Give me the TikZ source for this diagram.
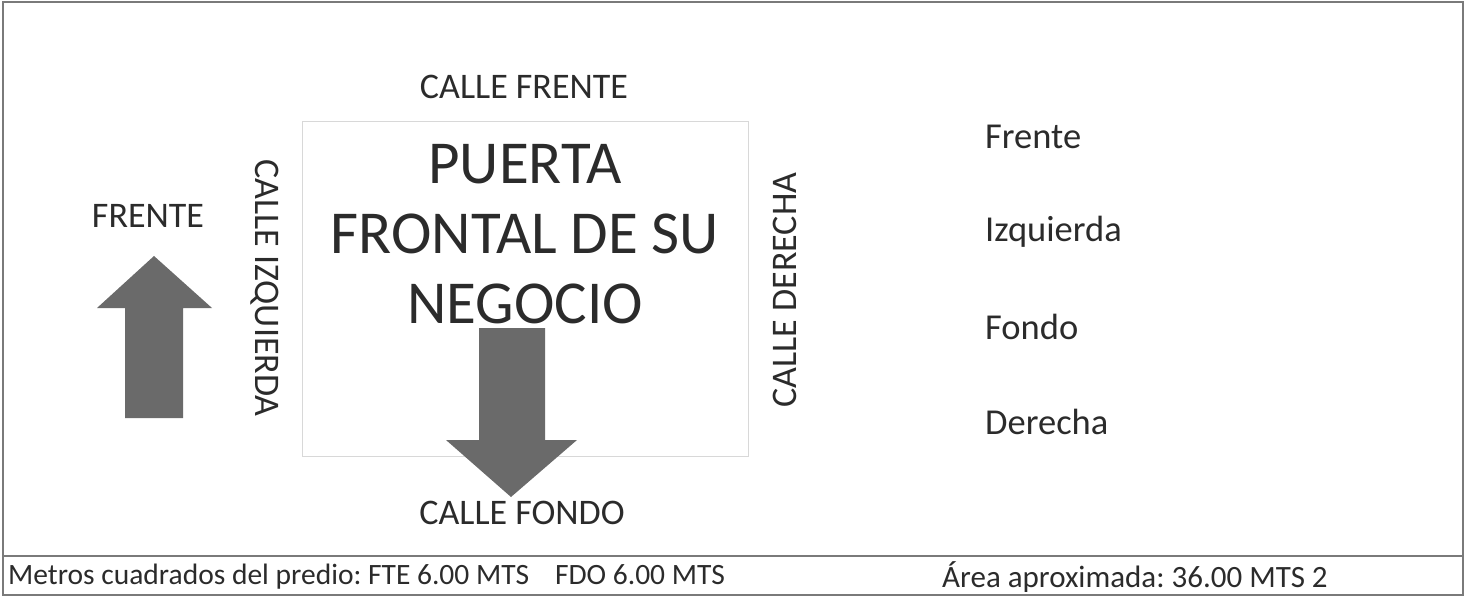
\documentclass[tikz,border=0pt]{standalone}
\usepackage{fontspec}
\setmainfont{Carlito}
\frenchspacing
\usetikzlibrary{positioning, calc}
\definecolor{Dark}{HTML}{2B2B2B}
\definecolor{Frame}{HTML}{7A7A7A}
\definecolor{Lot}{HTML}{D8D8D8}
\definecolor{Arrow}{HTML}{6A6A6A}
\tikzset{
    street/.style={inner sep=0pt, text=Dark, font=\fontsize{36}{43}\selectfont},
    sidelabel/.style={inner sep=0pt, anchor=west, text=Dark, font=\fontsize{36.5}{43}\selectfont},
    doorlabel/.style={inner sep=0pt, align=center, text=Dark, font=\fontsize{61}{70}\selectfont},
    footlabel/.style={inner sep=0pt, anchor=west, text=Dark, font=\fontsize{31}{37}\selectfont},
    bigarrow/.style={fill=Arrow},
}
\begin{document}
\begin{tikzpicture}[x=1pt, y=-1pt]
    \useasboundingbox (0,0) rectangle (1470,596);

    % Marco exterior y franja inferior
    \draw[Frame, line width=2.2pt] (3,2) rectangle (1463,595);
    \draw[Frame, line width=2.2pt] (3,556) -- (1463,556);

    % Predio
    \draw[Lot, line width=1pt] (302,122) rectangle (748,456);
    \node[doorlabel] (door) at (525,234) {PUERTA\\FRONTAL DE SU\\NEGOCIO};

    % Calles alrededor del predio
    \node[street] (front) at (524,87) {CALLE FRENTE};
    \node[street] (back) at (522,513) {CALLE FONDO};
    \node[street, rotate=-90] (left) at (265,288) {CALLE IZQUIERDA};
    \node[street, rotate=90] (right) at (785,290) {CALLE DERECHA};

    % Flecha de orientacion
    \node[street] (north) at (148,216) {FRENTE};
    \fill[bigarrow] (154,256) -- (212,308) -- (183,308) -- (183,418)
        -- (125,418) -- (125,308) -- (97,308) -- cycle;

    % Flecha de la puerta
    \fill[bigarrow] (479,328) -- (545,328) -- (545,440) -- (577,440)
        -- (511,497) -- (446,440) -- (479,440) -- cycle;

    % Lista de medidas
    \node[sidelabel] (sfront) at (985,137) {Frente};
    \node[sidelabel] (sleft) at (985,232) {Izquierda};
    \node[sidelabel] (sback) at (985,327) {Fondo};
    \node[sidelabel] (sright) at (985,422) {Derecha};

    % Pie
    \node[footlabel, font=\fontsize{29.5}{36}\selectfont] (meters) at (8,577) {Metros cuadrados del predio: FTE 6.00 MTS\hspace{26pt}FDO 6.00 MTS};
    \node[footlabel] (area) at (942,577) {Área aproximada: 36.00 MTS 2};
\end{tikzpicture}
\end{document}
